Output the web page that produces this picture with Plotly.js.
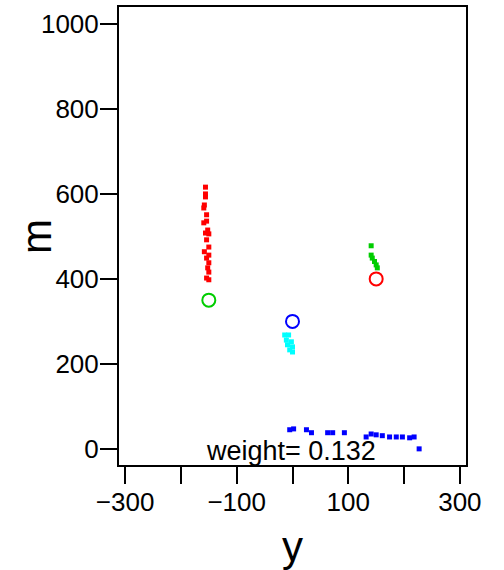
<!DOCTYPE html>
<html>
<head>
<meta charset="utf-8">
<script src="https://cdn.plot.ly/plotly-3.0.1.min.js"></script>
<style>html,body{margin:0;padding:0;background:#fff;}#chart{width:504px;height:570px;}</style>
</head>
<body>
<div id="chart"></div>
<script>
// red cluster
var redX = [-156, -156, -156, -158, -159, -154, -154, -159, -152, -156, -150, -154, -150, -158, -150, -154, -150, -152, -150, -154, -150];
var redY = [616, 600, 593, 574, 567, 551, 536, 532, 515, 508, 506, 492, 475, 464, 456, 449, 438, 426, 416, 402, 398];
// green cluster
var greenX = [141, 141, 143, 147, 150, 152];
var greenY = [478, 456, 449, 441, 433, 426];
// cyan cluster
var cyanX = [-14, -7, -11, -2, -9, 0, -5, 0];
var cyanY = [268, 268, 256, 252, 245, 240, 233, 228];
// blue cluster
var blueX = [-5, 2, 25, 34, 63, 72, 93, 132, 141, 150, 161, 174, 186, 197, 210, 218, 227];
var blueY = [45, 47, 45, 38, 38, 38, 38, 28, 35, 33, 31, 28, 28, 28, 26, 28, 0];
// centres (open circles)
var centreX = [-150, 0, 150];
var centreY = [350, 300, 400];
var centreColors = ['#00CD00', '#0000FF', '#FF0000'];
// ticks
var xTickVals = [-300, -200, -100, 0, 100, 200, 300];
var xTickText = ['\u2212300', '', '\u2212100', '', '100', '', '300'];
var yTickVals = [0, 200, 400, 600, 800, 1000];
var yTickText = ['0', '200', '400', '600', '800', '1000'];
var xTitle = 'y';
var yTitle = 'm';
var weightLabel = 'weight= 0.132';

function sq(x, y, c) {
  return {x: x, y: y, type: 'scatter', mode: 'markers',
    marker: {symbol: 'square', size: 5, color: c, line: {width: 0}}, hoverinfo: 'none'};
}
var data = [
  sq(redX, redY, '#FF0000'),
  sq(greenX, greenY, '#00CD00'),
  sq(cyanX, cyanY, '#00FFFF'),
  sq(blueX, blueY, '#0000FF'),
  {x: centreX, y: centreY, type: 'scatter', mode: 'markers',
   marker: {symbol: 'circle-open', size: 13, color: centreColors, line: {width: 2, color: centreColors}}}
];
var fam = 'Liberation Sans, Arial, sans-serif';
var layout = {
  width: 504, height: 570,
  margin: {l: 119, r: 38, t: 7, b: 105},
  paper_bgcolor: '#fff', plot_bgcolor: '#fff',
  showlegend: false,
  font: {family: fam, color: '#000'},
  xaxis: {
    range: [-311, 311], tickvals: xTickVals, ticktext: xTickText,
    ticks: 'outside', ticklen: 17, tickwidth: 2, tickcolor: '#000',
    showline: true, mirror: true, linewidth: 2, linecolor: '#000',
    showgrid: false, zeroline: false, automargin: false,
    ticklabelstandoff: -4,
    tickfont: {family: fam, size: 26, color: '#000'}
  },
  yaxis: {
    range: [-38, 1040], tickvals: yTickVals, ticktext: yTickText,
    ticks: 'outside', ticklen: 17, tickwidth: 2, tickcolor: '#000',
    showline: true, mirror: true, linewidth: 2, linecolor: '#000',
    showgrid: false, zeroline: false, automargin: false,
    ticklabelstandoff: -4,
    tickfont: {family: fam, size: 26, color: '#000'}
  },
  annotations: [
    {text: weightLabel, xref: 'paper', yref: 'paper', x: 0.497, y: 0.031, yanchor: 'middle',
     showarrow: false, font: {family: fam, size: 27, color: '#000'}},
    {text: xTitle, xref: 'paper', yref: 'paper', x: 0.4986, y: -0.178, yanchor: 'middle', xanchor: 'center',
     showarrow: false, font: {family: fam, size: 42, color: '#000'}},
    {text: yTitle, xref: 'paper', yref: 'paper', x: -0.236, y: 0.498, yanchor: 'middle', xanchor: 'center',
     textangle: -90, showarrow: false, font: {family: fam, size: 42, color: '#000'}}
  ]
};
Plotly.newPlot('chart', data, layout, {displayModeBar: false, staticPlot: true});
</script>
</body>
</html>
